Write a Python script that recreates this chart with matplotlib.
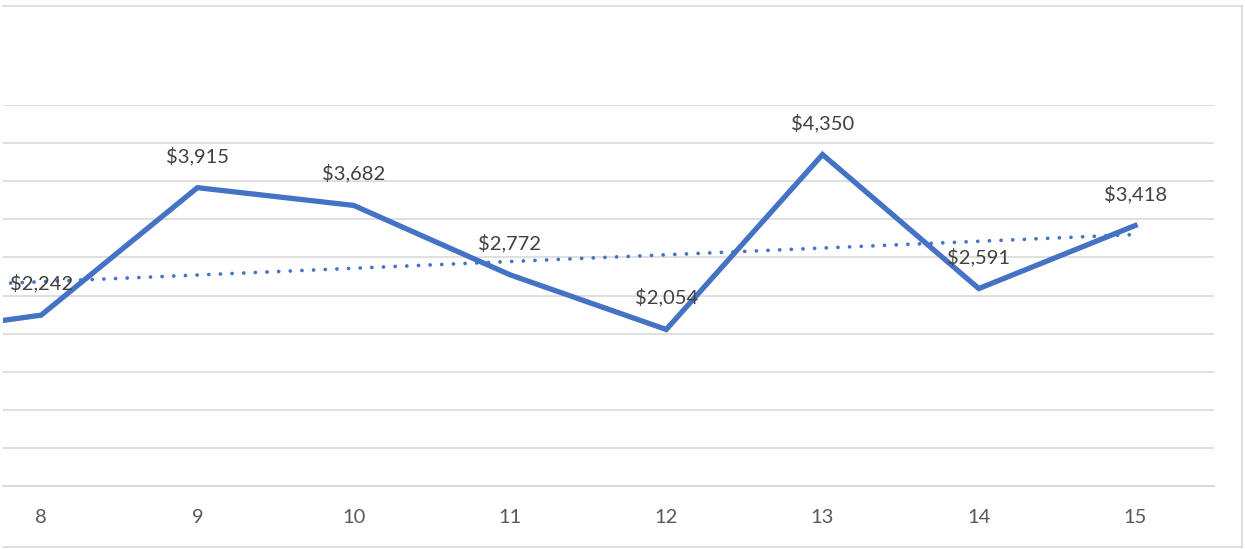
import matplotlib as mpl; mpl.use("Agg")
import matplotlib.pyplot as plt
from matplotlib.lines import Line2D

# visible categories plus the one just off the left edge
cats = [7, 8, 9, 10, 11, 12, 13, 14, 15]
values = [1960, 2242, 3915, 3682, 2772, 2054, 4350, 2591, 3418]
labelled = [8, 9, 10, 11, 12, 13, 14, 15]
# linear trendline read at its two ends
trend_x = [7, 15]
trend_y = [2592, 3300]

BLUE = "#4472C4"; GRID = "#D9D9D9"; TXT = "#404040"; TICK = "#595959"
mpl.rcParams["font.family"] = ["Lato", "DejaVu Sans"]

W, H = 1245, 549
fig = plt.figure(figsize=(W/100, H/100), dpi=100)
# plot area: x 3..1214 px, y (0 at 486 px, 5000 at 105 px)
ax = fig.add_axes([3/W, 1-486/H, (1214-3)/W, (486-105)/H])
ax.set_xlim(7.756, 15.505)
ax.set_ylim(0, 5000)
ax.set_yticks(range(0, 5001, 500))
ax.yaxis.grid(True, color=GRID, lw=1.2)
ax.axhline(0, color=GRID, lw=1.4, clip_on=False, zorder=1)
ax.set_axisbelow(True)
for s in ax.spines.values(): s.set_visible(False)
ax.tick_params(left=False, bottom=False, labelleft=False)
ax.set_xticks(labelled)
ax.set_xticklabels([str(c) for c in labelled], fontsize=14.5, color=TICK)
ax.tick_params(axis="x", pad=13)

ax.plot(cats, values, color=BLUE, lw=3.8, solid_joinstyle="miter", zorder=3)
ax.plot(trend_x, trend_y, color=BLUE, lw=2.7, ls=(0, (0.01, 3.1)),
        dash_capstyle="round", zorder=2)
for c, v in zip(cats, values):
    if c in labelled:
        ax.annotate(f"${v:,}", xy=(c, v), xytext=(0, 23), textcoords="offset points",
                    ha="center", va="center", fontsize=14.5, color=TXT, zorder=4)

# chart border (top, right, bottom)
for xs, ys in [((3, 1242), (6, 6)), ((1242, 1242), (6, 547)), ((3, 1242), (547, 547))]:
    fig.add_artist(Line2D([x/W for x in xs], [1-y/H for y in ys], color=GRID, lw=1.2))

fig.savefig("out.png", dpi=100, facecolor="white")
